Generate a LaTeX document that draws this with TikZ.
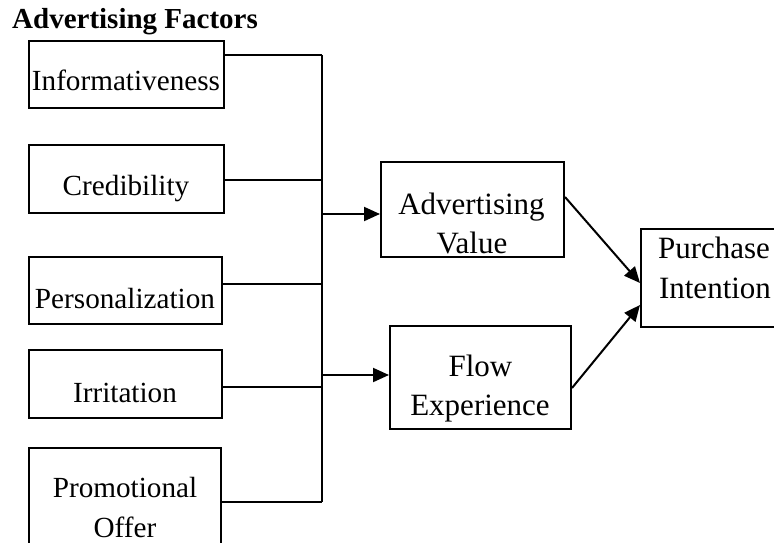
\documentclass[tikz,border=0pt]{standalone}
\usepackage{fontspec}
\setmainfont{Liberation Serif}
\usetikzlibrary{arrows.meta}
\begin{document}
\begin{tikzpicture}[x=1pt,y=-1pt,
  box/.style={draw,line width=2pt,rectangle,inner sep=0pt},
  txt/.style={anchor=base,inner sep=0pt,font=\fontsize{29.2}{34}\selectfont},
  txtr/.style={anchor=base,inner sep=0pt,font=\fontsize{31}{36}\selectfont},
  conn/.style={line width=2pt},
  arr/.style={line width=2pt,-{Triangle[length=16pt,width=14pt]}}]
\useasboundingbox (0,0) rectangle (774,543);
\begin{scope}
\clip (0,0) rectangle (774,543);
% title
\node[anchor=base west,inner sep=0pt,font=\fontsize{29}{34}\selectfont\bfseries] (title) at (12,29) {Advertising Factors};
% left boxes
\node[box,minimum width=195pt,minimum height=67pt] (inf) at (126.5,74.5) {};
\node[box,minimum width=195pt,minimum height=68pt] (cred) at (126.5,179) {};
\node[box,minimum width=193pt,minimum height=67pt] (pers) at (125.5,290.5) {};
\node[box,minimum width=193pt,minimum height=68pt] (irr) at (125.5,384) {};
\node[box,minimum width=192pt,minimum height=112pt] (promo) at (125,504) {};
% right boxes
\node[box,minimum width=183pt,minimum height=95pt] (av) at (472.5,209.5) {};
\node[box,minimum width=181pt,minimum height=103pt] (fe) at (480.5,377.5) {};
\node[box,minimum width=147pt,minimum height=98pt] (pi) at (714.5,278) {};
% texts
\node[txt] (tinf) at (126,91) {Informativeness};
\node[txt] (tcred) at (126,195) {Credibility};
\node[txt] (tpers) at (125,308) {Personalization};
\node[txt] (tirr) at (125,402) {Irritation};
\node[txt] (tpromo1) at (125,497) {Promotional};
\node[txt] (tpromo2) at (125,537) {Offer};
\node[txtr] (tav1) at (471.5,214) {Advertising};
\node[txtr] (tav2) at (472,253) {Value};
\node[txtr] (tfe1) at (480.5,376) {Flow};
\node[txtr] (tfe2) at (480,415) {Experience};
\node[txtr] (tpi1) at (714,258) {Purchase};
\node[txtr] (tpi2) at (715,298) {Intention};
% bus
\coordinate (b1) at (322,55);
\coordinate (b2) at (322,180);
\coordinate (b3) at (322,284);
\coordinate (b4) at (322,387);
\coordinate (b5) at (322,502);
\coordinate (ba) at (322,214);
\coordinate (bf) at (322,375);
\draw[conn] (b1) -- (b5);
\draw[conn] (b1 -| inf.east) -- (b1);
\draw[conn] (b2 -| cred.east) -- (b2);
\draw[conn] (b3 -| pers.east) -- (b3);
\draw[conn] (b4 -| irr.east) -- (b4);
\draw[conn] (b5 -| promo.east) -- (b5);
\draw[arr] (ba) -- (ba -| av.west);
\draw[arr] (bf) -- (bf -| fe.west);
\draw[arr] ([yshift=12.5pt]av.east) -- ([yshift=-5pt]pi.west);
\draw[arr] ([yshift=-10.5pt]fe.east) -- ([yshift=-27pt]pi.west);
\end{scope}
\end{tikzpicture}
\end{document}
